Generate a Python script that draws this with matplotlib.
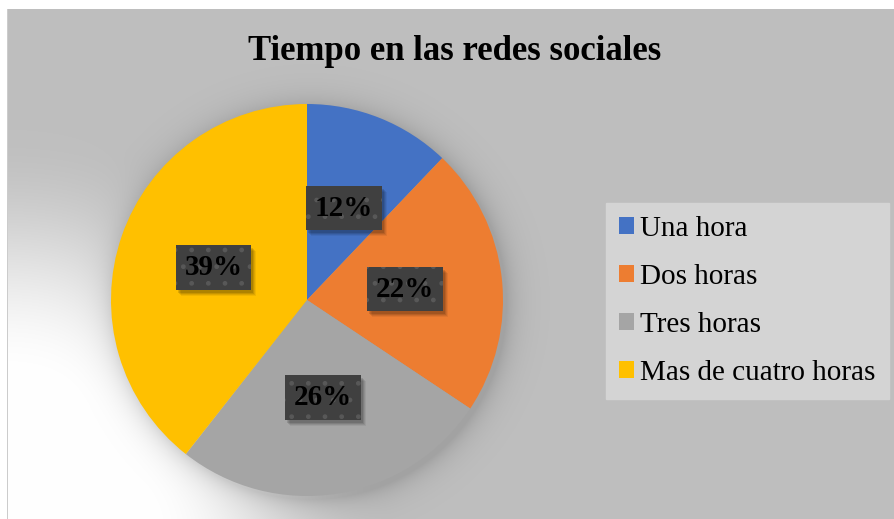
import numpy as np
import matplotlib
matplotlib.use("Agg")
import matplotlib.pyplot as plt
from matplotlib.patches import Patch, Rectangle

title = "Tiempo en las redes sociales"
categories = ["Una hora", "Dos horas", "Tres horas", "Mas de cuatro horas"]
values = [12, 22, 26, 39]
colors = ["#4472C4", "#ED7D31", "#A5A5A5", "#FFC000"]

W, H = 894, 519
fig = plt.figure(figsize=(W / 100, H / 100), dpi=100)
fig.patch.set_facecolor("white")

# pie geometry (pixels)
cx, cy, R = 307, 300, 196

# background with radial gradient and pie shadow
bg = fig.add_axes([0, 0, 1, 1])
yy, xx = np.mgrid[0:H, 0:W]
d = np.hypot(xx - 7, yy - 519)
t = np.clip((d - 140) / 250.0, 0, 1)
t = t * t * (3 - 2 * t)
val = 255 - (255 - 191) * t
dp = np.hypot(xx - (cx + 3), yy - (cy + 3)) - R
shadow = np.where(dp > 0, np.exp(-dp / 13.0), 1.0)
val = val * (1 - 0.15 * shadow)
img = np.clip(val, 0, 255) / 255.0
img[:9, :] = 1.0
img[:, :7] = 1.0
img[9:, 7] = 0.80
rgb = np.dstack([img, img, img])
bg.imshow(rgb, extent=[0, W, H, 0], interpolation="bilinear", aspect="auto")
bg.set_xlim(0, W)
bg.set_ylim(H, 0)
bg.axis("off")

ax = fig.add_axes([(cx - R) / W, (H - cy - R) / H, 2 * R / W, 2 * R / H])
tp = dict(family="Liberation Serif", fontsize=21, fontweight="bold", color="black")
wedges, texts, autotexts = ax.pie(
    values, colors=colors, startangle=90, counterclock=False,
    radius=1.0, autopct="%.0f%%", pctdistance=0.505,
    wedgeprops=dict(linewidth=0), textprops=tp,
)
ax.set_xlim(-1, 1)
ax.set_ylim(-1, 1)
ax.set_aspect("equal")
ax.axis("off")

for at in autotexts:
    at.set_bbox(dict(boxstyle="square,pad=0.3", facecolor="#404040", edgecolor="#585858",
                     linewidth=0, hatch="."))
    at.set_zorder(5)

fig.text(455 / W, 1 - 51 / H, title, ha="center", va="center",
         family="Liberation Serif", fontsize=25, fontweight="bold", color="black")

handles = [Patch(facecolor=c, edgecolor="none") for c in colors]
leg = fig.legend(handles, categories, loc="upper left",
                 bbox_to_anchor=(606 / W, 1 - 203 / H),
                 prop=dict(family="Liberation Serif", size=21),
                 frameon=True, fancybox=False, facecolor="#d4d4d4", edgecolor="#d4d4d4",
                 framealpha=1, handlelength=0.52, handleheight=0.52, handletextpad=0.2,
                 labelspacing=0.75, borderpad=0.45, borderaxespad=0)

# soft shadows behind label boxes (pixel geometry from the rendered boxes)
fig.canvas.draw()
renderer = fig.canvas.get_renderer()
for at in autotexts:
    ext = at.get_bbox_patch().get_window_extent(renderer)
    for k, a in [(6, 0.06), (5, 0.08), (4, 0.10), (3, 0.12)]:
        r = Rectangle((ext.x0 + k - 1, ext.y0 - k), ext.width, ext.height,
                      transform=None, facecolor="black", alpha=a, edgecolor="none", zorder=4)
        ax.add_artist(r)

fig.savefig("out.png", dpi=100)
